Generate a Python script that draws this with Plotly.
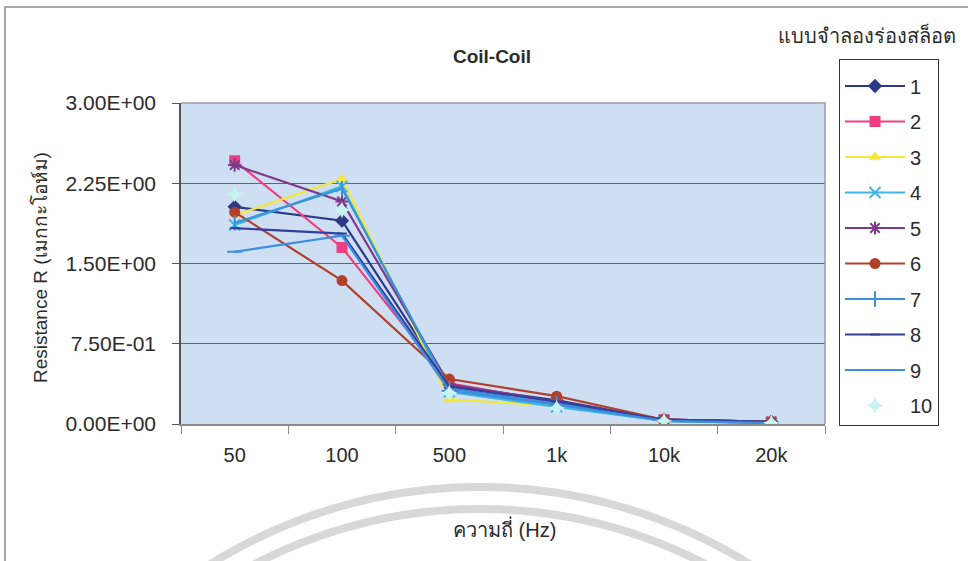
import math
import plotly.graph_objects as go

# Frequency categories and resistance (MΩ) for each slot model
freq_labels = ["50", "100", "500", "1k", "10k", "20k"]
series_names = ["1", "2", "3", "4", "5", "6", "7", "8", "9", "10"]

r1 = [2.03, 1.90, 0.36, 0.22, 0.04, 0.02]
r2 = [2.46, 1.65, 0.38, 0.20, 0.04, 0.02]
r3 = [1.95, 2.29, 0.23, 0.17, 0.03, 0.01]
r4 = [1.86, 2.22, 0.30, 0.16, 0.03, 0.01]
r5 = [2.42, 2.08, 0.37, 0.21, 0.04, 0.02]
r6 = [1.98, 1.34, 0.42, 0.26, 0.04, 0.02]
r7 = [1.88, 2.20, 0.33, 0.19, 0.03, 0.01]
r8 = [1.83, 1.78, 0.35, 0.21, 0.04, 0.02]
r9 = [1.61, 1.76, 0.31, 0.18, 0.03, 0.01]
r10 = [2.15, 2.00, 0.29, 0.15, 0.03, 0.01]
values = [r1, r2, r3, r4, r5, r6, r7, r8, r9, r10]

y_tick_vals = [0, 0.75, 1.5, 2.25, 3.0]
y_tick_text = ["0.00E+00", "7.50E-01", "1.50E+00", "2.25E+00", "3.00E+00"]

colors = ["#2c3a86", "#ee3f80", "#f3e83a", "#3fb6e4", "#7e3a88",
          "#b0402a", "#3a92d8", "#33409c", "#3c8ee0", "#c6f4f2"]
symbols = ["diamond", "square", "triangle-up", "x-thin", "asterisk",
           "circle", "line-ns", "line-ew", "line-ew", "star-diamond"]
sizes = [11, 11, 11, 11, 11, 11, 11, 7, 11, 12]

W, H = 968, 561
ML, MR, MT, MB = 181, 143, 103, 137
PW, PH = W - ML - MR, H - MT - MB
TXT = "#2b2b2b"
FONT = "Liberation Sans, Arial, Noto Sans, sans-serif"


def px(x):
    return (x - ML) / PW


def py(y):
    return (H - MB - y) / PH


fig = go.Figure()
for i, (name, vals) in enumerate(zip(series_names, values)):
    open_marker = symbols[i] in ("x-thin", "asterisk", "line-ns", "line-ew")
    marker = dict(symbol=symbols[i], size=sizes[i], color=colors[i],
                  line=dict(color=colors[i], width=2 if open_marker else 0))
    fig.add_trace(go.Scatter(
        x=freq_labels, y=vals, name=name, legendgroup=name,
        mode="markers" if i == 9 else "lines+markers",
        line=dict(color=colors[i], width=2.2),
        marker=marker,
    ))

# faint circular watermark behind the axis labels
shapes = []
for radius in (510, 488):
    cx, cy = 480, 997
    pts = []
    for k in range(0, 121):
        ang = math.radians(50 + k * 80 / 120)
        x = cx + radius * math.cos(ang)
        y = cy - radius * math.sin(ang)
        pts.append((px(x), py(y)))
    path = "M " + " L ".join(f"{a:.5f},{b:.5f}" for a, b in pts)
    shapes.append(dict(type="path", xref="paper", yref="paper", path=path,
                       line=dict(color="#d8d8d8", width=8), layer="below"))

# outer chart frame
shapes.append(dict(type="rect", xref="paper", yref="paper",
                   x0=px(5), y0=py(575), x1=px(985), y1=py(7),
                   line=dict(color="#8c8c8c", width=1.5), layer="below"))
# plot area border (top and right)
shapes.append(dict(type="path", xref="paper", yref="paper",
                   path="M 0,1 L 1,1 L 1,0",
                   line=dict(color="#9a9aa8", width=1.5), layer="above"))

fig.update_layout(
    width=W, height=H,
    margin=dict(l=ML, r=MR, t=MT, b=MB),
    paper_bgcolor="white",
    plot_bgcolor="#cedff3",
    font=dict(family=FONT, size=20, color=TXT),
    title=dict(text="<b>Coil-Coil</b>", x=px(492), xref="paper", xanchor="center",
               y=1 - 56 / H, yanchor="middle", font=dict(size=19, color=TXT)),
    showlegend=True,
    legend=dict(x=px(839), y=py(59), xanchor="left", yanchor="top",
                bgcolor="white", bordercolor="#333333", borderwidth=1,
                font=dict(size=20), tracegroupgap=6.5, traceorder="grouped",
                itemwidth=60, maxheight=460,
                title=dict(text=" ", font=dict(size=5))),
    shapes=shapes,
    annotations=[
        dict(text="แบบจำลองร่องสล็อต", xref="paper", yref="paper",
             x=px(776), y=py(35), xanchor="left", yanchor="middle",
             showarrow=False, font=dict(size=20, color=TXT)),
        dict(text="Resistance R (เมกกะโอห์ม)", xref="paper", yref="paper",
             x=px(40), y=py(268), xanchor="center", yanchor="middle",
             textangle=-90, showarrow=False, font=dict(size=19, color=TXT)),
        dict(text="ความถี่ (Hz)", xref="paper", yref="paper",
             x=px(504), y=py(528), xanchor="center", yanchor="middle",
             showarrow=False, font=dict(size=20, color=TXT)),
    ],
)

fig.update_xaxes(
    type="category", range=[-0.5, 5.5],
    showline=True, linecolor="#8a8a8a", linewidth=1.5, mirror=False,
    ticks="outside", tickson="boundaries", ticklen=8, tickcolor="#8a8a8a",
    ticklabelstandoff=12, showgrid=False, tickfont=dict(size=20),
)
fig.update_yaxes(
    range=[0, 3], tickvals=y_tick_vals, ticktext=y_tick_text,
    showline=True, linecolor="#555555", linewidth=1.5,
    ticks="outside", ticklen=7, tickcolor="#555555", ticklabelstandoff=12,
    showgrid=True, gridcolor="#666666", gridwidth=1.2, zeroline=False,
    tickfont=dict(size=21),
)

fig.write_html("out.html")
